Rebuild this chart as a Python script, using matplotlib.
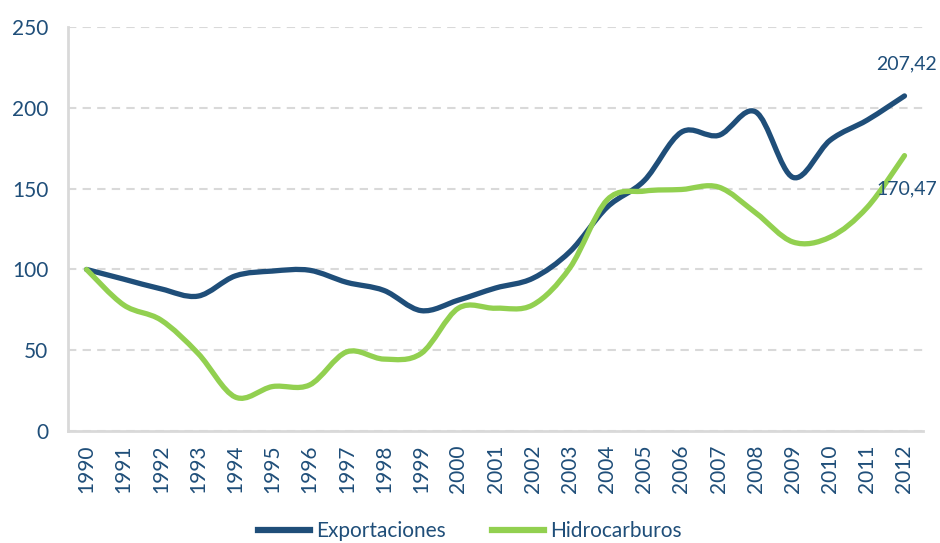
import matplotlib.pyplot as plt
from matplotlib.path import Path
from matplotlib.patches import PathPatch
from matplotlib.lines import Line2D

years = [str(y) for y in range(1990, 2013)]
exportaciones = [100, 94, 88, 83.5, 96, 99, 99.5, 92, 87, 74.5, 81, 88.5, 94.5,
                 111, 138.5, 155, 185, 183, 197.5, 157, 180, 192.5, 207.42]
hidrocarburos = [100, 78, 68.7, 48, 21, 27.5, 28.5, 49, 44.5, 48, 76, 76, 78,
                 101, 143, 148.5, 149.5, 151, 135, 117, 120, 138.5, 170.47]

navy = "#1F4E79"
green = "#92D050"
grid = "#D9D9D9"

plt.rcParams["font.family"] = ["Lato", "DejaVu Sans"]


def smooth_path(ys):
    # bezier through the points, like excel's smoothed line
    n = len(ys)
    verts = [(0, ys[0])]
    codes = [Path.MOVETO]
    for i in range(n - 1):
        y0 = ys[i - 1] if i > 0 else ys[i]
        y3 = ys[i + 2] if i + 2 < n else ys[i + 1]
        x0 = i - 1 if i > 0 else i
        x3 = i + 2 if i + 2 < n else i + 1
        c1 = (i + (i + 1 - x0) / 6, ys[i] + (ys[i + 1] - y0) / 6)
        c2 = (i + 1 - (x3 - i) / 6, ys[i + 1] - (y3 - ys[i]) / 6)
        verts += [c1, c2, (i + 1, ys[i + 1])]
        codes += [Path.CURVE4] * 3
    return Path(verts, codes)


fig = plt.figure(figsize=(9.4, 5.43), dpi=100)
ax = fig.add_axes([0.0723, 0.2063, 0.9097, 0.7437])

for ys, c in [(exportaciones, navy), (hidrocarburos, green)]:
    ax.add_patch(PathPatch(smooth_path(ys), facecolor="none", edgecolor=c,
                           lw=3.8, capstyle="round", joinstyle="round", zorder=3))

ax.set_xlim(-0.5, len(years) - 0.5)
ax.set_ylim(0, 250)
ax.set_yticks(range(0, 251, 50))
ax.set_xticks(range(len(years)))
ax.set_xticklabels(years, rotation=90)
ax.tick_params(length=0, colors=navy, labelsize=15)
ax.tick_params(axis="y", pad=14)
ax.tick_params(axis="x", pad=10)

ax.grid(axis="y", color=grid, linestyle=(0, (4, 3)), lw=1.5)
ax.set_axisbelow(True)
for s in ["top", "right"]:
    ax.spines[s].set_visible(False)
for s in ["left", "bottom"]:
    ax.spines[s].set_color(grid)
    ax.spines[s].set_linewidth(2)

fig.text(0.997, 1 - 64 / 543, "207,42", ha="right", va="center",
         color=navy, fontsize=14)
fig.text(0.997, 1 - 189 / 543, "170,47", ha="right", va="center",
         color=navy, fontsize=14)

handles = [Line2D([], [], color=navy, lw=4.5),
           Line2D([], [], color=green, lw=4.5)]
fig.legend(handles, ["Exportaciones", "Hidrocarburos"], loc="center",
           bbox_to_anchor=(0.5, 0.022), ncol=2, frameon=False, fontsize=15,
           labelcolor=navy, handlelength=2.5, handletextpad=0.3, columnspacing=2.2)

fig.savefig("out.png", dpi=100)
